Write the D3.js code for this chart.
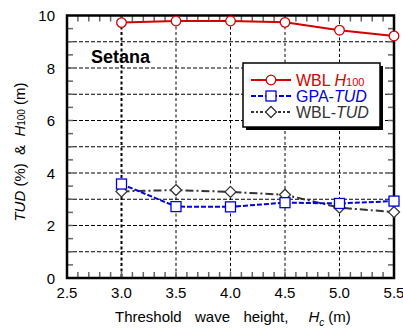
<!DOCTYPE html>
<html><head><meta charset="utf-8">
<script src="https://cdn.jsdelivr.net/npm/d3@7"></script>
<style>body{margin:0;background:#fff}svg{display:block;font-family:"Liberation Sans",Arial,sans-serif}text{white-space:pre}</style>
</head><body><svg id="c" width="403" height="333"></svg>
<script>
const xValues = [3.0, 3.5, 4.0, 4.5, 5.0, 5.5];
const wblH100 = [9.73, 9.79, 9.79, 9.74, 9.44, 9.22];
const gpaTUD = [3.58, 2.72, 2.71, 2.87, 2.84, 2.93];
const wblTUD = [3.30, 3.35, 3.28, 3.17, 2.68, 2.51];
const xTickLabels = ["2.5","3.0","3.5","4.0","4.5","5.0","5.5"];
const yTickLabels = ["0","2","4","6","8","10"];

const svg = d3.select("#c");
const L=67, R=394, T=15.5, B=278;
const x = d3.scaleLinear().domain([2.5,5.5]).range([L,R]);
const y = d3.scaleLinear().domain([0,10]).range([B,T]);

// grid
const g = svg.append("g");
g.selectAll(".hg").data(d3.range(1,10)).join("line")
  .attr("x1",L).attr("x2",R).attr("y1",d=>y(d)).attr("y2",d=>y(d))
  .attr("stroke","#000").attr("stroke-width",1).attr("stroke-dasharray","4,2");
g.selectAll(".vg").data([3.0,3.5,4.0,4.5,5.0]).join("line")
  .attr("y1",T).attr("y2",B).attr("x1",d=>x(d)).attr("x2",d=>x(d))
  .attr("stroke","#000").attr("stroke-width",d=>d===3.0?2:1).attr("stroke-dasharray","3,2.5");

// minor ticks
const xt = d3.range(26,55).map(d=>d/10);
const tk = svg.append("g").attr("stroke","#666").attr("stroke-width",1.5);
xt.forEach(v=>{
  tk.append("line").attr("x1",x(v)).attr("x2",x(v)).attr("y1",B).attr("y2",B-6);
  tk.append("line").attr("x1",x(v)).attr("x2",x(v)).attr("y1",T).attr("y2",T+6);
});
const yt = d3.range(1,20).map(d=>d/2);
yt.forEach(v=>{
  tk.append("line").attr("y1",y(v)).attr("y2",y(v)).attr("x1",L).attr("x2",L+6);
  tk.append("line").attr("y1",y(v)).attr("y2",y(v)).attr("x1",R).attr("x2",R-6);
});

// frame
svg.append("rect").attr("x",L).attr("y",T).attr("width",R-L).attr("height",B-T)
  .attr("fill","none").attr("stroke","#000").attr("stroke-width",2.5);

// tick labels
svg.selectAll(".xl").data(xTickLabels).join("text")
  .attr("x",d=>x(+d)).attr("y",298).attr("text-anchor","middle")
  .attr("font-size",15).text(d=>d);
svg.selectAll(".yl").data(yTickLabels).join("text")
  .attr("x",55).attr("y",d=>y(+d)+5.5).attr("text-anchor","end")
  .attr("font-size",15).text(d=>d);

// axis titles
const xt2 = svg.append("text").attr("x",115).attr("y",322).attr("font-size",15).attr("word-spacing",2.5);
xt2.append("tspan").text("Threshold  wave  height,   ");
xt2.append("tspan").attr("font-style","italic").text("H");
xt2.append("tspan").attr("font-style","italic").attr("font-size",10).attr("dy",4).text("c");
xt2.append("tspan").attr("dy",-4).attr("dx",4).text("(m)");

const yt2 = svg.append("text").attr("transform","translate(25,152) rotate(-90)")
  .attr("text-anchor","middle").attr("font-size",15);
yt2.append("tspan").attr("font-style","italic").text("TUD");
yt2.append("tspan").text(" (%)  &  ");
yt2.append("tspan").attr("font-style","italic").text("H");
yt2.append("tspan").attr("font-size",10).text("100");
yt2.append("tspan").text(" (m)");

svg.append("text").attr("x",91).attr("y",63).attr("font-size",18).attr("font-weight","bold").text("Setana");

// series
const RED="#d40000", BLUE="#0000e0", GRAY="#333";
const line = d3.line().x(d=>x(d[0])).y(d=>y(d[1]));
const zip = arr => xValues.map((v,i)=>[v,arr[i]]);

svg.append("path").datum(zip(wblTUD)).attr("d",line).attr("fill","none")
  .attr("stroke",GRAY).attr("stroke-width",2).attr("stroke-dasharray","8,3,2,3");
svg.append("path").datum(zip(gpaTUD)).attr("d",line).attr("fill","none")
  .attr("stroke",BLUE).attr("stroke-width",2).attr("stroke-dasharray","5,2");
svg.append("path").datum(zip(wblH100)).attr("d",line).attr("fill","none")
  .attr("stroke",RED).attr("stroke-width",2);

const diamond = (cx,cy,r)=>`M${cx},${cy-r}L${cx+r},${cy}L${cx},${cy+r}L${cx-r},${cy}Z`;
svg.selectAll(".dm").data(zip(wblTUD)).join("path")
  .attr("d",d=>diamond(x(d[0]),y(d[1]),5.5)).attr("fill","#fff").attr("stroke",GRAY).attr("stroke-width",1.3);
svg.selectAll(".sq").data(zip(gpaTUD)).join("rect")
  .attr("x",d=>x(d[0])-5).attr("y",d=>y(d[1])-5).attr("width",10).attr("height",10)
  .attr("fill","#fff").attr("stroke",BLUE).attr("stroke-width",1.3);
svg.selectAll(".ci").data(zip(wblH100)).join("circle")
  .attr("cx",d=>x(d[0])).attr("cy",d=>y(d[1])).attr("r",4.8)
  .attr("fill","#fff").attr("stroke",RED).attr("stroke-width",1.3);

// legend
const lg = svg.append("g");
lg.append("rect").attr("x",246).attr("y",66).attr("width",137).attr("height",64).attr("fill","#000");
lg.append("rect").attr("x",243).attr("y",63).attr("width",137).attr("height",64).attr("fill","#fff").attr("stroke","#000").attr("stroke-width",1.5);
const rows = [
  {c:RED, dash:null, m:"c", parts:[["WBL ",null],["H","i"],["100","s"]], y:80},
  {c:BLUE, dash:"5,2", m:"s", parts:[["GPA-",null],["TUD","i"]], y:96},
  {c:GRAY, dash:"3,2,2,2", m:"d", parts:[["WBL-",null],["TUD","i"]], y:112}
];
rows.forEach(r=>{
  lg.append("line").attr("x1",251).attr("x2",291).attr("y1",r.y).attr("y2",r.y)
    .attr("stroke",r.c).attr("stroke-width",2).attr("stroke-dasharray",r.dash);
  if(r.m==="c") lg.append("circle").attr("cx",271).attr("cy",r.y).attr("r",4.8).attr("fill","#fff").attr("stroke",r.c).attr("stroke-width",1.3);
  if(r.m==="s") lg.append("rect").attr("x",266).attr("y",r.y-5).attr("width",10).attr("height",10).attr("fill","#fff").attr("stroke",r.c).attr("stroke-width",1.3);
  if(r.m==="d") lg.append("path").attr("d",diamond(271,r.y,5.5)).attr("fill","#fff").attr("stroke",r.c).attr("stroke-width",1.3);
  const t = lg.append("text").attr("x",296).attr("y",r.y+6).attr("font-size",16).attr("fill",r.c);
  r.parts.forEach(p=>{
    const s=t.append("tspan").text(p[0]);
    if(p[1]==="i") s.attr("font-style","italic");
    if(p[1]==="s") s.attr("font-size",11);
  });
});
</script></body></html>
